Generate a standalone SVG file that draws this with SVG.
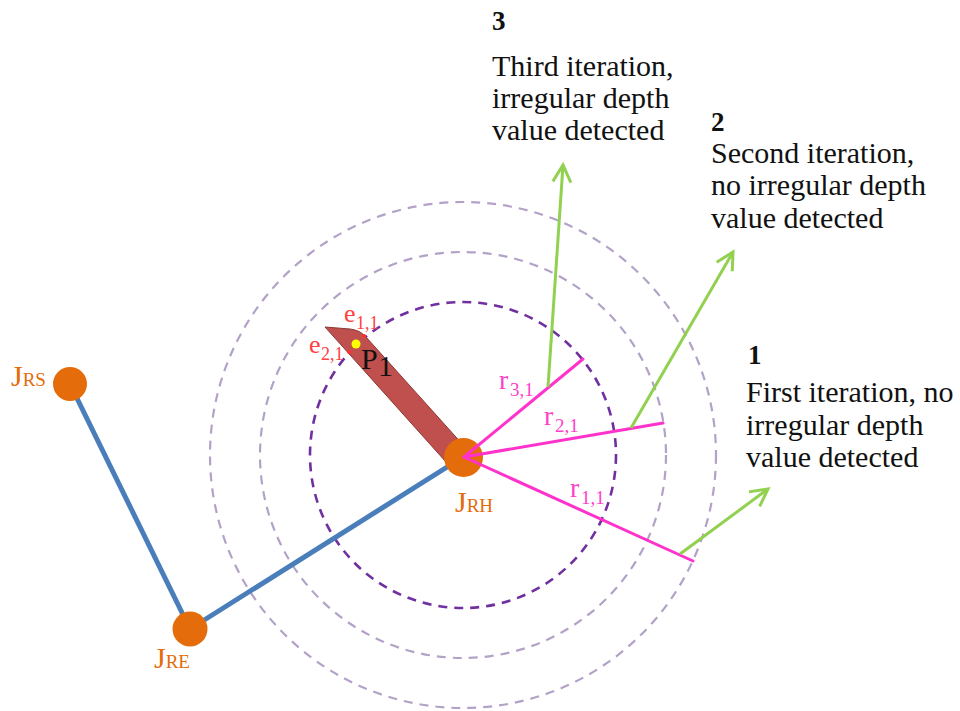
<svg xmlns="http://www.w3.org/2000/svg" width="960" height="711" viewBox="0 0 960 711">
<style>
  .txt { font-family: "Liberation Serif", "DejaVu Serif", serif; fill: #111; font-size: 30px; }
  .num { font-weight: bold; font-size: 27px; }
  .ring { fill: none; stroke-width: 2.2; stroke-dasharray: 9 7; }
  .inner { stroke: #7030A0; stroke-width: 2.6; }
  .outer { stroke: #B3A2C7; }
  .bone { stroke: #4A7EBB; stroke-width: 5; fill: none; }
  .joint { fill: #E46C0A; }
  .jl { font-family: "Liberation Serif", "DejaVu Serif", serif; fill: #E46C0A; }
  .ray { stroke: #FF33CC; stroke-width: 3; fill: none; stroke-linecap: round; }
  .rl { font-family: "Liberation Serif", "DejaVu Serif", serif; fill: #FF40C8; }
  .el { font-family: "Liberation Serif", "DejaVu Serif", serif; fill: #FF4040; }
  .arrow { stroke: #92D050; stroke-width: 3; fill: none; marker-end: url(#chev); }
</style>
<defs>
  <marker id="chev" viewBox="0 0 22 22" refX="19" refY="11" markerWidth="22" markerHeight="22" markerUnits="userSpaceOnUse" orient="auto">
    <path d="M2,2 L19,11 L2,20" fill="none" stroke="#92D050" stroke-width="3"/>
  </marker>
</defs>
<rect width="960" height="711" fill="#ffffff"/>

<g id="rings">
  <circle class="ring outer" cx="463" cy="455" r="253"/>
  <circle class="ring outer" cx="463" cy="455" r="203"/>
  <circle class="ring inner" cx="463" cy="455" r="153"/>
</g>

<g id="connectors">
  <line class="bone" x1="70" y1="384" x2="190" y2="629"/>
  <line class="bone" x1="190" y1="629" x2="463" y2="457"/>
</g>

<g id="hand-bar">
  <path d="M325,327 L350,329 Q360,330 366,337 L464,446 L446,462 Z" fill="#C0504D" stroke="#8C3836" stroke-width="1"/>
</g>

<g id="J_RS">
  <circle class="joint" cx="70" cy="384" r="17"/>
  <text class="jl" x="11" y="386" font-size="30">J<tspan font-size="19">RS</tspan></text>
</g>
<g id="J_RE">
  <circle class="joint" cx="190" cy="629" r="17.5"/>
  <text class="jl" x="154" y="668" font-size="30">J<tspan font-size="19">RE</tspan></text>
</g>
<g id="J_RH">
  <circle class="joint" cx="463.5" cy="457.5" r="19.5"/>
  <text class="jl" x="455" y="512" font-size="30">J<tspan font-size="19">RH</tspan></text>
</g>

<g id="rays">
  <line class="ray" x1="464" y1="457" x2="583" y2="359"/>
  <line class="ray" x1="464" y1="457" x2="663" y2="423"/>
  <line class="ray" x1="464" y1="457" x2="693" y2="561"/>
  <text class="rl" x="499" y="389" font-size="28">r</text>
  <text class="rl" x="510" y="396" font-size="19">3,1</text>
  <text class="rl" x="544" y="425" font-size="28">r</text>
  <text class="rl" x="555" y="432" font-size="19">2,1</text>
  <text class="rl" x="570" y="497" font-size="28">r</text>
  <text class="rl" x="581" y="504" font-size="19">1,1</text>
</g>

<g id="points">
  <circle cx="364" cy="336" r="2" fill="#FF3030"/>
  <circle cx="349" cy="352" r="2" fill="#FF3030"/>
  <circle cx="356" cy="344" r="4.5" fill="#FFFF00"/>
  <text class="el" x="344" y="322" font-size="26">e</text>
  <text class="el" x="356" y="329" font-size="18">1,1</text>
  <text class="el" x="309" y="353" font-size="26">e</text>
  <text class="el" x="321" y="360" font-size="18">2,1</text>
  <text class="txt" x="361" y="369" font-size="29">P</text>
  <text class="txt" x="378" y="376" font-size="20">1</text>
</g>

<g id="arrows">
  <line class="arrow" x1="548" y1="387" x2="563" y2="165"/>
  <line class="arrow" x1="631" y1="428" x2="733" y2="252"/>
  <line class="arrow" x1="680" y1="554" x2="768" y2="489"/>
</g>

<g id="label3">
  <text class="txt num" x="492" y="30">3</text>
  <text class="txt" x="492" y="76">Third iteration,</text>
  <text class="txt" x="492" y="108">irregular depth</text>
  <text class="txt" x="492" y="140">value detected</text>
</g>
<g id="label2">
  <text class="txt num" x="711" y="131">2</text>
  <text class="txt" x="711" y="163">Second iteration,</text>
  <text class="txt" x="711" y="195">no irregular depth</text>
  <text class="txt" x="711" y="228">value detected</text>
</g>
<g id="label1">
  <text class="txt num" x="748" y="364">1</text>
  <text class="txt" x="746" y="402">First iteration, no</text>
  <text class="txt" x="746" y="435">irregular depth</text>
  <text class="txt" x="746" y="467">value detected</text>
</g>
</svg>
